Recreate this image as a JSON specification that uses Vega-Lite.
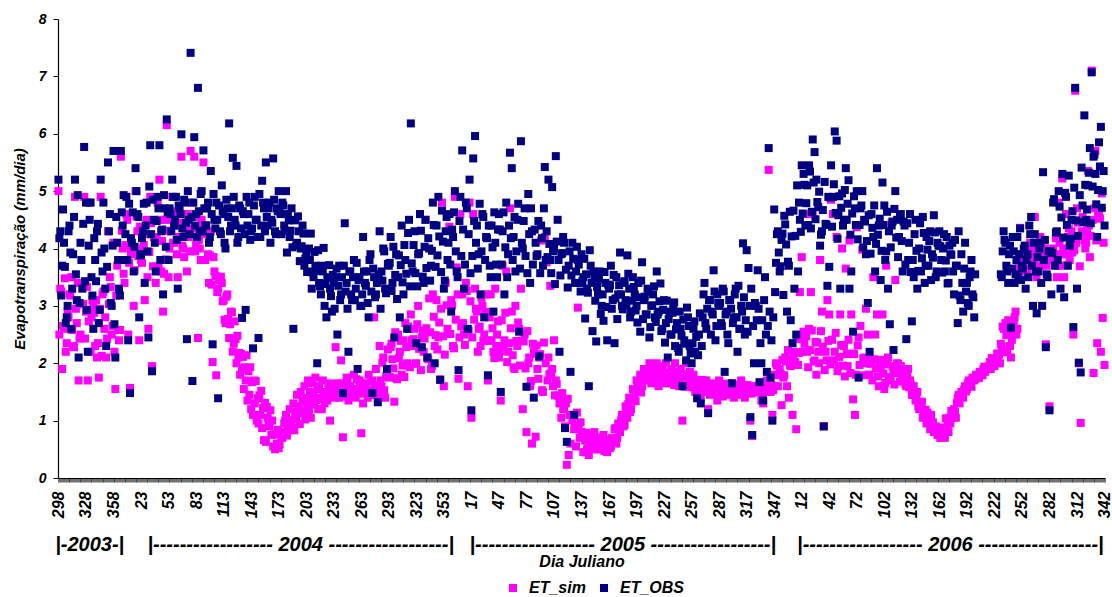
{
"$schema": "https://vega.github.io/schema/vega-lite/v6.json",
"width": 1047, "height": 459,
"autosize": {"type": "none"},
"padding": {"left": 58, "top": 19, "right": 7, "bottom": 119},
"background": "white",
"config": {"view": {"stroke": null}, "font": "Liberation Sans"},
"data": {"values": [
{"d":0,"o":5.2,"s":5.0},{"d":2,"o":4.3,"s":3.3},{"d":4,"o":3.7,"s":1.9},{"d":6,"o":4.1,"s":2.6},{"d":8,"o":2.7,"s":2.2},{"d":10,"o":3.0,"s":2.9},{"d":12,"o":4.4,"s":3.2},{"d":14,"o":2.6,"s":3.5},{"d":16,"o":3.9,"s":2.3},{"d":18,"o":5.2,"s":4.9},
{"d":20,"o":3.1,"s":2.7},{"d":22,"o":2.1,"s":1.7},{"d":24,"o":4.1,"s":2.5},{"d":26,"o":3.3,"s":3.4},{"d":28,"o":5.77,"s":4.9},{"d":30,"o":4.8,"s":2.9},{"d":32,"o":2.2,"s":1.7},{"d":34,"o":4.5,"s":4.8},{"d":36,"o":3.5,"s":2.8},{"d":38,"o":2.6,"s":3.0},
{"d":40,"o":3.8,"s":2.3},{"d":42,"o":4.3,"s":2.1},{"d":44,"o":2.7,"s":1.75},{"d":46,"o":5.2,"s":4.9},{"d":48,"o":3.6,"s":3.2},{"d":50,"o":4.0,"s":2.6},{"d":52,"o":2.3,"s":2.1},{"d":54,"o":5.5,"s":4.3},{"d":56,"o":4.6,"s":3.5},{"d":58,"o":3.0,"s":2.5},
{"d":60,"o":5.7,"s":4.1},{"d":62,"o":2.1,"s":1.55},{"d":64,"o":4.1,"s":3.7},{"d":66,"o":3.3,"s":2.4},{"d":68,"o":5.7,"s":5.6},{"d":70,"o":4.4,"s":4.0},{"d":72,"o":3.8,"s":3.4},{"d":74,"o":4.9,"s":4.6},{"d":76,"o":2.4,"s":2.5},{"d":78,"o":1.48,"s":1.57},
{"d":80,"o":4.1,"s":3.9},{"d":82,"o":3.6,"s":3.0},{"d":84,"o":5.4,"s":5.0},{"d":86,"o":4.6,"s":4.3},{"d":88,"o":2.8,"s":2.4},{"d":90,"o":3.9,"s":3.8},{"d":92,"o":4.3,"s":4.0},{"d":94,"o":3.4,"s":3.1},{"d":96,"o":4.8,"s":4.5},{"d":98,"o":2.45,"s":2.6},
{"d":100,"o":5.8,"s":4.9},{"d":102,"o":1.86,"s":1.95},{"d":104,"o":4.5,"s":4.2},{"d":106,"o":3.6,"s":3.4},{"d":108,"o":4.9,"s":4.8},{"d":110,"o":5.8,"s":5.2},{"d":112,"o":4.3,"s":3.6},{"d":114,"o":3.2,"s":2.9},{"d":116,"o":4.7,"s":4.5},{"d":118,"o":6.25,"s":6.15},
{"d":120,"o":3.8,"s":3.5},{"d":122,"o":4.6,"s":4.3},{"d":124,"o":5.2,"s":4.9},{"d":126,"o":4.4,"s":4.1},{"d":128,"o":4.9,"s":4.6},{"d":130,"o":3.3,"s":3.5},{"d":132,"o":4.7,"s":4.4},{"d":134,"o":5.99,"s":5.6},{"d":136,"o":4.2,"s":4.0},{"d":138,"o":4.8,"s":4.3},
{"d":140,"o":2.42,"s":3.6},{"d":142,"o":4.5,"s":4.2},{"d":144,"o":7.41,"s":5.7},{"d":146,"o":1.69,"s":4.8},{"d":148,"o":5.94,"s":5.6},{"d":150,"o":4.6,"s":4.06},{"d":152,"o":6.8,"s":2.44},{"d":154,"o":4.3,"s":4.0},{"d":156,"o":5.0,"s":4.5},{"d":158,"o":5.71,"s":5.5},
{"d":160,"o":4.4,"s":3.8},{"d":162,"o":4.7,"s":4.26},{"d":164,"o":4.1,"s":3.4},{"d":166,"o":5.35,"s":4.3},{"d":168,"o":2.33,"s":2.02},{"d":170,"o":4.5,"s":3.6},{"d":172,"o":4.8,"s":1.79},{"d":174,"o":1.39,"s":3.3},{"d":176,"o":4.3,"s":3.5},{"d":178,"o":5.1,"s":3.4},
{"d":180,"o":4.6,"s":3.1},{"d":182,"o":4.0,"s":2.7},{"d":184,"o":4.7,"s":3.2},{"d":186,"o":6.18,"s":2.44},{"d":188,"o":4.4,"s":2.9},{"d":190,"o":5.58,"s":2.2},{"d":192,"o":4.5,"s":2.73},{"d":194,"o":5.44,"s":2.0},{"d":196,"o":4.2,"s":2.1},{"d":198,"o":4.7,"s":1.8},
{"d":200,"o":2.79,"s":1.9},{"d":202,"o":4.6,"s":1.55},{"d":204,"o":2.93,"s":1.7},{"d":206,"o":4.4,"s":1.35},{"d":208,"o":4.8,"s":1.45},{"d":210,"o":4.3,"s":1.2},{"d":212,"o":2.26,"s":1.1},{"d":214,"o":4.9,"s":1.3},{"d":216,"o":4.5,"s":1.0},{"d":218,"o":2.44,"s":0.95},
{"d":220,"o":4.2,"s":1.1},{"d":222,"o":5.18,"s":0.87},{"d":224,"o":4.7,"s":0.66},{"d":226,"o":5.5,"s":0.63},{"d":228,"o":4.4,"s":1.05},{"d":230,"o":4.8,"s":0.9},{"d":232,"o":4.5,"s":0.75},{"d":234,"o":5.57,"s":0.55},{"d":236,"o":4.3,"s":0.5},{"d":238,"o":4.7,"s":0.6},
{"d":240,"o":5.0,"s":0.52},{"d":242,"o":4.6,"s":0.8},{"d":244,"o":4.8,"s":0.7},{"d":246,"o":4.4,"s":0.95},{"d":248,"o":5.0,"s":1.1},{"d":250,"o":4.6,"s":0.85},{"d":252,"o":4.2,"s":1.2},{"d":254,"o":4.7,"s":1.0},{"d":256,"o":2.6,"s":1.3},{"d":258,"o":4.5,"s":1.15},
{"d":260,"o":4.1,"s":1.45},{"d":262,"o":4.3,"s":1.25},{"d":264,"o":4.0,"s":1.5},{"d":266,"o":4.4,"s":1.35},{"d":268,"o":3.7,"s":1.6},{"d":270,"o":3.9,"s":1.4},{"d":272,"o":3.6,"s":1.7},{"d":274,"o":3.8,"s":1.5},{"d":276,"o":3.3,"s":1.65},{"d":278,"o":3.5,"s":1.45},
{"d":280,"o":3.7,"s":1.75},{"d":282,"o":2.0,"s":1.55},{"d":284,"o":3.4,"s":1.6},{"d":286,"o":3.2,"s":1.4},{"d":288,"o":3.6,"s":1.7},{"d":290,"o":3.0,"s":1.3},{"d":292,"o":2.8,"s":1.5},{"d":294,"o":3.5,"s":1.65},{"d":296,"o":3.3,"s":1.0},{"d":298,"o":2.9,"s":1.6},
{"d":300,"o":3.4,"s":1.45},{"d":302,"o":3.5,"s":2.28},{"d":304,"o":2.5,"s":1.6},{"d":306,"o":3.7,"s":1.4},{"d":308,"o":3.2,"s":2.05},{"d":310,"o":1.48,"s":0.71},{"d":312,"o":4.44,"s":1.5},{"d":314,"o":3.4,"s":1.75},{"d":316,"o":2.2,"s":1.35},{"d":318,"o":3.6,"s":1.6},
{"d":320,"o":3.1,"s":1.5},{"d":322,"o":3.8,"s":1.8},{"d":324,"o":3.3,"s":1.4},{"d":326,"o":1.9,"s":1.55},{"d":328,"o":3.5,"s":1.7},{"d":330,"o":3.0,"s":0.78},{"d":332,"o":4.2,"s":1.3},{"d":334,"o":3.4,"s":1.65},{"d":336,"o":3.6,"s":1.5},{"d":338,"o":2.8,"s":1.8},
{"d":340,"o":3.9,"s":1.45},{"d":342,"o":1.48,"s":1.7},{"d":344,"o":3.5,"s":2.8},{"d":346,"o":3.2,"s":1.9},{"d":348,"o":1.32,"s":1.55},{"d":350,"o":4.3,"s":2.3},{"d":352,"o":3.6,"s":1.6},{"d":354,"o":4.0,"s":2.1},{"d":356,"o":3.3,"s":1.4},{"d":358,"o":1.9,"s":1.9},
{"d":360,"o":3.7,"s":1.75},{"d":362,"o":4.2,"s":2.28},{"d":364,"o":3.4,"s":2.07},{"d":366,"o":2.45,"s":1.33},{"d":368,"o":3.9,"s":1.74},{"d":370,"o":3.5,"s":2.5},{"d":372,"o":2.8,"s":2.2},{"d":374,"o":4.4,"s":1.8},{"d":376,"o":3.2,"s":2.4},{"d":378,"o":3.8,"s":2.7},
{"d":380,"o":2.6,"s":2.0},{"d":382,"o":4.5,"s":2.6},{"d":384,"o":6.18,"s":2.85},{"d":386,"o":3.6,"s":2.3},{"d":388,"o":4.3,"s":2.6},{"d":390,"o":2.35,"s":2.0},{"d":392,"o":3.9,"s":3.0},{"d":394,"o":4.6,"s":4.6},{"d":396,"o":2.28,"s":2.45},{"d":398,"o":3.4,"s":2.2},
{"d":400,"o":4.5,"s":4.5},{"d":402,"o":2.1,"s":2.1},{"d":404,"o":4.0,"s":3.13},{"d":406,"o":3.7,"s":1.9},{"d":408,"o":4.8,"s":3.2},{"d":410,"o":2.0,"s":2.3},{"d":412,"o":4.4,"s":3.1},{"d":414,"o":4.9,"s":2.45},{"d":416,"o":1.71,"s":1.72},{"d":418,"o":4.66,"s":4.8},
{"d":420,"o":3.3,"s":1.6},{"d":422,"o":4.3,"s":3.4},{"d":424,"o":3.8,"s":2.6},{"d":426,"o":4.6,"s":4.38},{"d":428,"o":2.9,"s":3.1},{"d":430,"o":4.2,"s":2.3},{"d":432,"o":5.0,"s":4.9},{"d":434,"o":3.6,"s":3.67},{"d":436,"o":1.88,"s":1.73},{"d":438,"o":4.9,"s":4.6},
{"d":440,"o":5.71,"s":3.2},{"d":442,"o":3.3,"s":2.5},{"d":444,"o":4.8,"s":3.4},{"d":446,"o":2.6,"s":1.6},{"d":448,"o":5.2,"s":4.8},{"d":450,"o":1.18,"s":1.05},{"d":452,"o":5.57,"s":4.6},{"d":454,"o":5.96,"s":3.3},{"d":456,"o":4.4,"s":2.9},{"d":458,"o":3.9,"s":2.6},
{"d":460,"o":3.2,"s":2.3},{"d":462,"o":4.6,"s":3.0},{"d":464,"o":2.8,"s":2.5},{"d":466,"o":4.2,"s":3.2},{"d":468,"o":1.79,"s":1.7},{"d":470,"o":3.7,"s":2.8},{"d":472,"o":4.4,"s":2.4},{"d":474,"o":2.9,"s":2.2},{"d":476,"o":4.1,"s":3.3},{"d":478,"o":3.5,"s":2.5},
{"d":480,"o":4.6,"s":2.1},{"d":482,"o":1.5,"s":1.35},{"d":484,"o":4.3,"s":3.7},{"d":486,"o":3.2,"s":2.4},{"d":488,"o":4.8,"s":3.6},{"d":490,"o":3.9,"s":2.2},{"d":492,"o":5.67,"s":4.7},{"d":494,"o":5.4,"s":2.9},{"d":496,"o":4.2,"s":1.93},{"d":498,"o":3.6,"s":3.0},
{"d":500,"o":4.5,"s":2.3},{"d":502,"o":2.55,"s":2.6},{"d":504,"o":5.87,"s":3.3},{"d":506,"o":4.0,"s":1.2},{"d":508,"o":4.7,"s":2.5},{"d":510,"o":1.59,"s":0.8},{"d":512,"o":4.95,"s":2.0},{"d":514,"o":3.4,"s":1.6},{"d":516,"o":4.3,"s":0.6},{"d":518,"o":1.4,"s":2.2},
{"d":520,"o":4.1,"s":0.72},{"d":522,"o":3.9,"s":1.9},{"d":524,"o":2.12,"s":2.1},{"d":526,"o":4.4,"s":4.14},{"d":528,"o":3.7,"s":1.5},{"d":530,"o":5.42,"s":4.2},{"d":532,"o":4.3,"s":3.76},{"d":534,"o":5.2,"s":2.1},{"d":536,"o":3.8,"s":3.35},{"d":538,"o":5.07,"s":1.9},
{"d":540,"o":4.0,"s":2.4},{"d":542,"o":5.61,"s":1.7},{"d":544,"o":4.5,"s":1.44},{"d":546,"o":2.2,"s":1.3},{"d":548,"o":3.9,"s":1.05},{"d":550,"o":4.2,"s":1.2},{"d":552,"o":0.87,"s":0.9},{"d":554,"o":0.63,"s":0.23},{"d":556,"o":3.7,"s":0.4},{"d":558,"o":1.85,"s":0.6},
{"d":560,"o":4.1,"s":1.0},{"d":562,"o":1.1,"s":0.85},{"d":564,"o":3.6,"s":0.55},{"d":566,"o":3.8,"s":2.97},{"d":568,"o":3.4,"s":0.7},{"d":570,"o":3.9,"s":0.8},{"d":572,"o":3.5,"s":0.45},{"d":574,"o":2.78,"s":0.65},{"d":576,"o":3.3,"s":0.5},{"d":578,"o":1.6,"s":0.4},
{"d":580,"o":3.7,"s":0.75},{"d":582,"o":2.56,"s":0.6},{"d":584,"o":3.5,"s":0.8},{"d":586,"o":2.38,"s":0.55},{"d":588,"o":3.2,"s":0.7},{"d":590,"o":3.6,"s":0.5},{"d":592,"o":3.0,"s":0.65},{"d":594,"o":2.74,"s":0.75},{"d":596,"o":3.4,"s":0.5},{"d":598,"o":2.4,"s":0.45},
{"d":600,"o":3.3,"s":0.6},{"d":602,"o":3.7,"s":0.55},{"d":604,"o":3.1,"s":0.7},{"d":606,"o":2.35,"s":0.85},{"d":608,"o":3.5,"s":0.6},{"d":610,"o":3.2,"s":0.95},{"d":612,"o":3.93,"s":0.8},{"d":614,"o":3.0,"s":1.1},{"d":616,"o":3.4,"s":0.9},{"d":618,"o":3.1,"s":1.25},
{"d":620,"o":3.88,"s":1.05},{"d":622,"o":3.3,"s":1.4},{"d":624,"o":2.9,"s":1.2},{"d":626,"o":3.5,"s":1.55},{"d":628,"o":3.2,"s":1.35},{"d":630,"o":3.0,"s":1.7},{"d":632,"o":3.4,"s":1.5},{"d":634,"o":2.55,"s":1.8},{"d":636,"o":3.76,"s":1.6},{"d":638,"o":3.1,"s":1.9},
{"d":640,"o":2.85,"s":1.7},{"d":642,"o":3.3,"s":1.8},{"d":644,"o":2.45,"s":2.0},{"d":646,"o":3.0,"s":1.65},{"d":648,"o":3.2,"s":1.9},{"d":650,"o":2.8,"s":1.75},{"d":652,"o":3.6,"s":2.0},{"d":654,"o":2.9,"s":1.6},{"d":656,"o":3.39,"s":1.85},{"d":658,"o":2.6,"s":1.95},
{"d":660,"o":3.1,"s":1.7},{"d":662,"o":2.7,"s":2.0},{"d":664,"o":2.1,"s":1.8},{"d":666,"o":2.9,"s":1.65},{"d":668,"o":2.5,"s":1.9},{"d":670,"o":3.0,"s":1.75},{"d":672,"o":2.3,"s":2.0},{"d":674,"o":2.7,"s":1.85},{"d":676,"o":2.2,"s":1.6},{"d":678,"o":2.6,"s":1.9},
{"d":680,"o":1.6,"s":1.0},{"d":682,"o":2.4,"s":1.75},{"d":684,"o":2.05,"s":2.0},{"d":686,"o":2.8,"s":1.7},{"d":688,"o":2.3,"s":1.85},{"d":690,"o":2.0,"s":1.6},{"d":692,"o":2.6,"s":1.8},{"d":694,"o":2.2,"s":1.5},{"d":696,"o":1.39,"s":1.7},{"d":698,"o":2.5,"s":1.55},
{"d":700,"o":1.3,"s":1.4},{"d":702,"o":2.8,"s":1.5},{"d":704,"o":3.4,"s":1.6},{"d":706,"o":2.6,"s":1.7},{"d":708,"o":1.13,"s":1.2},{"d":710,"o":3.1,"s":1.45},{"d":712,"o":2.9,"s":1.65},{"d":714,"o":3.62,"s":1.5},{"d":716,"o":2.4,"s":1.6},{"d":718,"o":3.2,"s":1.35},
{"d":720,"o":3.0,"s":1.7},{"d":722,"o":2.7,"s":1.5},{"d":724,"o":3.3,"s":1.42},{"d":726,"o":1.85,"s":1.6},{"d":728,"o":2.9,"s":1.5},{"d":730,"o":2.35,"s":1.45},{"d":732,"o":3.1,"s":1.65},{"d":734,"o":1.65,"s":1.55},{"d":736,"o":2.8,"s":1.4},{"d":738,"o":3.3,"s":1.6},
{"d":740,"o":2.2,"s":1.5},{"d":742,"o":2.6,"s":1.45},{"d":744,"o":3.0,"s":1.7},{"d":746,"o":4.09,"s":1.55},{"d":748,"o":2.5,"s":1.4},{"d":750,"o":3.97,"s":1.6},{"d":752,"o":3.66,"s":1.5},{"d":754,"o":1.06,"s":1.0},{"d":756,"o":0.75,"s":0.73},{"d":758,"o":2.0,"s":1.5},
{"d":760,"o":3.0,"s":1.6},{"d":762,"o":3.62,"s":1.6},{"d":764,"o":1.67,"s":1.5},{"d":766,"o":2.0,"s":1.35},{"d":768,"o":1.35,"s":1.3},{"d":770,"o":3.5,"s":1.6},{"d":772,"o":1.85,"s":1.7},{"d":774,"o":5.75,"s":5.37},{"d":776,"o":1.75,"s":1.5},{"d":778,"o":1.0,"s":1.1},
{"d":780,"o":4.68,"s":1.8},{"d":782,"o":3.75,"s":2.0},{"d":784,"o":4.3,"s":1.6},{"d":786,"o":3.6,"s":1.9},{"d":788,"o":4.15,"s":1.27},{"d":790,"o":3.19,"s":1.75},{"d":792,"o":4.42,"s":2.1},{"d":794,"o":2.9,"s":1.6},{"d":796,"o":3.7,"s":1.4},{"d":798,"o":2.75,"s":1.95},
{"d":800,"o":2.35,"s":1.1},{"d":802,"o":3.3,"s":2.2},{"d":804,"o":2.5,"s":0.85},{"d":806,"o":3.6,"s":1.97},{"d":808,"o":4.5,"s":3.24},{"d":810,"o":5.45,"s":3.85},{"d":812,"o":5.3,"s":2.55},{"d":814,"o":4.4,"s":4.6},{"d":816,"o":5.1,"s":2.2},{"d":818,"o":5.45,"s":2.6},
{"d":820,"o":4.35,"s":3.24},{"d":822,"o":5.9,"s":4.6},{"d":824,"o":5.68,"s":2.05},{"d":826,"o":5.2,"s":1.8},{"d":828,"o":4.72,"s":2.2},{"d":830,"o":4.05,"s":3.8},{"d":832,"o":4.3,"s":2.9},{"d":834,"o":0.9,"s":0.9},{"d":836,"o":4.43,"s":2.2},{"d":838,"o":3.35,"s":3.1},
{"d":840,"o":3.68,"s":2.85},{"d":842,"o":5.45,"s":4.85},{"d":844,"o":4.9,"s":4.6},{"d":846,"o":6.04,"s":2.2},{"d":848,"o":5.88,"s":4.2},{"d":850,"o":4.58,"s":1.95},{"d":852,"o":3.3,"s":2.85},{"d":854,"o":4.96,"s":4.0},{"d":856,"o":4.5,"s":2.3},{"d":858,"o":5.4,"s":3.65},
{"d":860,"o":4.78,"s":1.95},{"d":862,"o":3.3,"s":4.14},{"d":864,"o":3.6,"s":2.85},{"d":866,"o":2.55,"s":1.37},{"d":868,"o":4.7,"s":1.1},{"d":870,"o":5.0,"s":4.37},{"d":872,"o":1.75,"s":2.45},{"d":874,"o":4.7,"s":2.65},{"d":876,"o":5.0,"s":3.98},{"d":878,"o":4.5,"s":2.1},
{"d":880,"o":3.9,"s":2.95},{"d":882,"o":3.05,"s":2.5},{"d":884,"o":2.2,"s":1.8},{"d":886,"o":4.6,"s":2.0},{"d":888,"o":4.2,"s":3.5},{"d":890,"o":3.6,"s":2.5},{"d":892,"o":5.4,"s":2.85},{"d":894,"o":4.4,"s":1.6},{"d":896,"o":3.45,"s":1.95},{"d":898,"o":5.15,"s":2.85},
{"d":900,"o":4.75,"s":1.55},{"d":902,"o":3.95,"s":3.7},{"d":904,"o":3.3,"s":2.1},{"d":906,"o":2.68,"s":1.7},{"d":908,"o":4.4,"s":4.45},{"d":910,"o":2.23,"s":1.9},{"d":912,"o":5.0,"s":3.45},{"d":914,"o":4.5,"s":2.0},{"d":916,"o":4.2,"s":1.85},{"d":918,"o":4.6,"s":1.95},
{"d":920,"o":3.6,"s":1.8},{"d":922,"o":4.4,"s":1.85},{"d":924,"o":2.42,"s":1.6},{"d":926,"o":3.8,"s":1.9},{"d":928,"o":4.6,"s":1.7},{"d":930,"o":2.73,"s":1.45},{"d":932,"o":3.5,"s":1.6},{"d":934,"o":4.5,"s":1.35},{"d":936,"o":3.3,"s":1.5},{"d":938,"o":4.0,"s":1.2},
{"d":940,"o":3.6,"s":1.3},{"d":942,"o":4.55,"s":1.05},{"d":944,"o":3.4,"s":1.15},{"d":946,"o":4.2,"s":0.95},{"d":948,"o":3.7,"s":1.05},{"d":950,"o":4.3,"s":0.85},{"d":952,"o":3.9,"s":0.95},{"d":954,"o":4.58,"s":0.8},{"d":956,"o":3.5,"s":0.9},{"d":958,"o":4.1,"s":0.75},
{"d":960,"o":4.3,"s":0.85},{"d":962,"o":3.8,"s":0.7},{"d":964,"o":4.0,"s":0.8},{"d":966,"o":3.6,"s":0.7},{"d":968,"o":4.2,"s":0.85},{"d":970,"o":3.4,"s":0.8},{"d":972,"o":3.9,"s":0.95},{"d":974,"o":4.1,"s":1.05},{"d":976,"o":3.2,"s":1.2},{"d":978,"o":3.7,"s":1.05},
{"d":980,"o":2.7,"s":1.4},{"d":982,"o":3.18,"s":1.3},{"d":984,"o":3.9,"s":1.5},{"d":986,"o":2.9,"s":1.4},{"d":988,"o":4.1,"s":1.6},{"d":990,"o":3.4,"s":1.55},{"d":992,"o":3.0,"s":1.7},{"d":994,"o":3.6,"s":1.65},{"d":996,"o":3.2,"s":1.75},{"d":998,"o":2.8,"s":1.7},
{"d":1000,"o":null,"s":1.8},{"d":1002,"o":null,"s":1.75},{"d":1004,"o":null,"s":1.85},{"d":1006,"o":null,"s":1.8},{"d":1008,"o":null,"s":1.9},{"d":1010,"o":null,"s":1.85},{"d":1012,"o":null,"s":1.9},{"d":1014,"o":null,"s":1.95},{"d":1016,"o":null,"s":1.9},{"d":1018,"o":null,"s":1.99},
{"d":1020,"o":null,"s":1.95},{"d":1022,"o":null,"s":2.0},{"d":1024,"o":null,"s":2.1},{"d":1026,"o":null,"s":2.0},{"d":1028,"o":3.5,"s":2.3},{"d":1030,"o":4.3,"s":2.6},{"d":1032,"o":4.1,"s":2.7},{"d":1034,"o":3.6,"s":2.2},{"d":1036,"o":3.9,"s":2.5},{"d":1038,"o":2.62,"s":2.1},
{"d":1040,"o":4.2,"s":2.6},{"d":1042,"o":3.4,"s":2.8},{"d":1044,"o":3.8,"s":2.5},{"d":1046,"o":3.5,"s":3.6},{"d":1048,"o":4.35,"s":4.36},{"d":1050,"o":3.7,"s":3.8},{"d":1052,"o":4.0,"s":3.7},{"d":1054,"o":3.3,"s":3.9},{"d":1056,"o":3.9,"s":3.6},{"d":1058,"o":4.4,"s":4.0},
{"d":1060,"o":4.55,"s":3.8},{"d":1062,"o":3.0,"s":3.7},{"d":1064,"o":4.25,"s":4.55},{"d":1066,"o":2.87,"s":3.5},{"d":1068,"o":3.6,"s":3.9},{"d":1070,"o":4.1,"s":4.2},{"d":1072,"o":3.0,"s":3.7},{"d":1074,"o":3.8,"s":4.0},{"d":1076,"o":2.28,"s":2.33},{"d":1078,"o":3.5,"s":3.8},
{"d":1080,"o":1.18,"s":1.25},{"d":1082,"o":3.2,"s":3.9},{"d":1084,"o":4.8,"s":4.0},{"d":1086,"o":3.7,"s":3.8},{"d":1088,"o":4.3,"s":3.5},{"d":1090,"o":5.0,"s":4.8},{"d":1092,"o":3.3,"s":3.7},{"d":1094,"o":5.3,"s":5.22},{"d":1096,"o":3.15,"s":3.5},{"d":1098,"o":4.9,"s":4.6},
{"d":1100,"o":3.7,"s":4.2},{"d":1102,"o":4.05,"s":3.8},{"d":1104,"o":4.5,"s":4.3},{"d":1106,"o":2.63,"s":2.5},{"d":1108,"o":6.8,"s":6.75},{"d":1110,"o":3.3,"s":4.7},{"d":1112,"o":2.01,"s":2.0},{"d":1114,"o":1.84,"s":0.96},{"d":1116,"o":4.75,"s":4.55},{"d":1118,"o":6.32,"s":4.14},
{"d":1120,"o":4.5,"s":4.1},{"d":1122,"o":5.1,"s":5.35},{"d":1124,"o":5.75,"s":3.85},{"d":1126,"o":7.07,"s":7.1},{"d":1128,"o":5.6,"s":1.83},{"d":1130,"o":5.3,"s":5.7},{"d":1132,"o":4.2,"s":2.35},{"d":1134,"o":5.85,"s":4.6},{"d":1136,"o":6.12,"s":2.2},{"d":1138,"o":5.0,"s":2.79},
{"d":1140,"o":4.4,"s":1.97},
{"d":1,"o":4.18,"s":2.5},{"d":3,"o":3.18,"s":3.25},{"d":5,"o":4.68,"s":2.65},{"d":7,"o":3.68,"s":3.48},{"d":9,"o":2.8,"s":2.35},{"d":11,"o":4.3,"s":2.8},{"d":13,"o":3.93,"s":3.18},{"d":15,"o":3.3,"s":2.58},{"d":17,"o":4.55,"s":2.28},{"d":19,"o":3.55,"s":2.95},
{"d":21,"o":4.93,"s":3.4},{"d":23,"o":3.05,"s":2.43},{"d":25,"o":3.8,"s":3.03},{"d":27,"o":4.43,"s":3.03},{"d":29,"o":3.43,"s":2.43},{"d":31,"o":2.93,"s":3.33},{"d":33,"o":4.05,"s":2.73},{"d":35,"o":4.8,"s":2.2},{"d":37,"o":3.18,"s":3.1},{"d":39,"o":4.18,"s":2.88},
{"d":41,"o":3.43,"s":3.1},{"d":43,"o":4.43,"s":2.35},{"d":45,"o":2.93,"s":2.95},{"d":47,"o":3.93,"s":2.13},{"d":49,"o":4.8,"s":3.25},{"d":51,"o":3.3,"s":2.8},{"d":53,"o":3.68,"s":2.43},{"d":55,"o":4.3,"s":3.03},{"d":57,"o":3.05,"s":3.33},{"d":59,"o":4.05,"s":2.65},
{"d":61,"o":2.68,"s":2.2},{"d":63,"o":4.55,"s":3.18},{"d":65,"o":3.8,"s":2.58},{"d":67,"o":3.18,"s":2.58},{"d":69,"o":4.63,"s":4.31},{"d":71,"o":4.93,"s":3.56},{"d":73,"o":4.25,"s":4.06},{"d":75,"o":3.8,"s":4.5},{"d":77,"o":4.78,"s":3.75},{"d":79,"o":4.18,"s":3.94},
{"d":81,"o":4.63,"s":4.0},{"d":83,"o":4.03,"s":3.62},{"d":85,"o":5.0,"s":4.56},{"d":87,"o":4.55,"s":3.87},{"d":89,"o":3.88,"s":4.38},{"d":91,"o":4.18,"s":3.75},{"d":93,"o":4.78,"s":4.06},{"d":95,"o":4.4,"s":4.25},{"d":97,"o":3.95,"s":3.5},{"d":99,"o":5.08,"s":3.94},
{"d":101,"o":4.25,"s":4.44},{"d":103,"o":4.85,"s":3.69},{"d":105,"o":4.1,"s":4.19},{"d":107,"o":4.48,"s":4.19},{"d":109,"o":4.7,"s":3.69},{"d":111,"o":3.8,"s":4.5},{"d":113,"o":4.33,"s":4.13},{"d":115,"o":4.93,"s":3.56},{"d":117,"o":4.03,"s":3.81},{"d":119,"o":4.63,"s":4.31},
{"d":121,"o":4.7,"s":4.0},{"d":123,"o":4.3,"s":4.5},{"d":125,"o":4.9,"s":4.1},{"d":127,"o":4.5,"s":4.65},{"d":129,"o":4.15,"s":3.9},{"d":131,"o":4.75,"s":4.2},{"d":133,"o":4.6,"s":4.45},{"d":135,"o":4.35,"s":4.05},{"d":137,"o":4.85,"s":3.85},{"d":139,"o":4.45,"s":4.3},
{"d":141,"o":5.0,"s":4.6},{"d":143,"o":4.25,"s":3.95},{"d":145,"o":4.55,"s":4.35},{"d":147,"o":4.8,"s":4.35},{"d":149,"o":4.4,"s":3.95},{"d":151,"o":4.2,"s":4.55},{"d":153,"o":4.65,"s":4.15},{"d":155,"o":4.95,"s":3.8},{"d":157,"o":4.3,"s":4.4},{"d":159,"o":4.7,"s":4.25},
{"d":161,"o":4.4,"s":4.4},{"d":163,"o":4.8,"s":3.9},{"d":165,"o":4.2,"s":3.88},{"d":167,"o":4.6,"s":3.37},{"d":169,"o":4.95,"s":3.85},{"d":171,"o":4.35,"s":3.52},{"d":173,"o":4.5,"s":3.24},{"d":175,"o":4.75,"s":3.45},{"d":177,"o":4.25,"s":3.51},{"d":179,"o":4.65,"s":3.08},
{"d":181,"o":4.1,"s":2.76},{"d":183,"o":4.85,"s":3.16},{"d":185,"o":4.55,"s":2.77},{"d":187,"o":4.3,"s":2.68},{"d":189,"o":4.7,"s":2.89},{"d":191,"o":4.9,"s":2.34},{"d":193,"o":4.4,"s":2.42},{"d":195,"o":4.1,"s":2.48},{"d":197,"o":4.75,"s":2.18},{"d":199,"o":4.35,"s":2.16},
{"d":201,"o":4.65,"s":2.11},{"d":203,"o":4.25,"s":1.93},{"d":205,"o":4.9,"s":2.14},{"d":207,"o":4.6,"s":1.86},{"d":209,"o":4.15,"s":1.93},{"d":211,"o":4.35,"s":1.67},{"d":213,"o":4.75,"s":1.7},{"d":215,"o":4.5,"s":1.69},{"d":217,"o":4.2,"s":1.39},{"d":219,"o":4.95,"s":1.44},
{"d":221,"o":4.4,"s":1.52},{"d":223,"o":4.8,"s":1.22},{"d":225,"o":4.3,"s":1.31},{"d":227,"o":4.55,"s":1.24},{"d":229,"o":4.7,"s":1.0},{"d":231,"o":4.1,"s":1.18},{"d":233,"o":4.45,"s":1.0},{"d":235,"o":4.85,"s":0.76},{"d":237,"o":4.25,"s":0.76},{"d":239,"o":4.65,"s":0.84},
{"d":241,"o":4.65,"s":0.59},{"d":243,"o":4.25,"s":0.71},{"d":245,"o":4.75,"s":0.76},{"d":247,"o":4.31,"s":1.0},{"d":249,"o":3.93,"s":0.74},{"d":251,"o":4.49,"s":0.88},{"d":253,"o":4.31,"s":1.01},{"d":255,"o":4.02,"s":0.87},{"d":257,"o":4.49,"s":0.83},{"d":259,"o":4.05,"s":1.03},
{"d":261,"o":4.56,"s":1.16},{"d":263,"o":3.78,"s":0.94},{"d":265,"o":4.04,"s":1.13},{"d":267,"o":4.26,"s":1.16},{"d":269,"o":3.82,"s":1.02},{"d":271,"o":3.59,"s":1.28},{"d":273,"o":4.0,"s":1.16},{"d":275,"o":4.26,"s":1.05},{"d":277,"o":3.58,"s":1.31},{"d":279,"o":3.94,"s":1.28},
{"d":281,"o":3.61,"s":1.36},{"d":283,"o":3.97,"s":1.2},{"d":285,"o":3.34,"s":1.38},{"d":287,"o":3.7,"s":1.2},{"d":289,"o":4.01,"s":1.5},{"d":291,"o":3.38,"s":1.42},{"d":293,"o":3.49,"s":1.35},{"d":295,"o":3.71,"s":1.53},{"d":297,"o":3.17,"s":1.63},{"d":299,"o":3.54,"s":1.49},
{"d":301,"o":2.95,"s":1.4},{"d":303,"o":3.65,"s":1.65},{"d":305,"o":3.35,"s":1.49},{"d":307,"o":3.1,"s":1.49},{"d":309,"o":3.5,"s":1.65},{"d":311,"o":3.7,"s":1.42},{"d":313,"o":3.25,"s":1.57},{"d":315,"o":2.95,"s":1.7},{"d":317,"o":3.6,"s":1.47},{"d":319,"o":3.2,"s":1.53},
{"d":321,"o":3.5,"s":1.55},{"d":323,"o":3.1,"s":1.44},{"d":325,"o":3.75,"s":1.72},{"d":327,"o":3.45,"s":1.51},{"d":329,"o":3.0,"s":1.66},{"d":331,"o":3.2,"s":1.47},{"d":333,"o":3.6,"s":1.57},{"d":335,"o":3.35,"s":1.63},{"d":337,"o":3.05,"s":1.4},{"d":339,"o":3.8,"s":1.53},
{"d":341,"o":3.25,"s":1.68},{"d":343,"o":3.65,"s":1.45},{"d":345,"o":3.15,"s":1.61},{"d":347,"o":3.4,"s":1.61},{"d":349,"o":3.55,"s":1.45},{"d":351,"o":2.95,"s":1.7},{"d":353,"o":3.44,"s":2.01},{"d":355,"o":3.95,"s":1.53},{"d":357,"o":3.22,"s":1.77},{"d":359,"o":3.73,"s":2.24},
{"d":361,"o":3.75,"s":1.76},{"d":363,"o":3.26,"s":2.34},{"d":365,"o":4.03,"s":1.91},{"d":367,"o":3.54,"s":2.54},{"d":369,"o":3.12,"s":1.72},{"d":371,"o":3.88,"s":2.09},{"d":373,"o":3.71,"s":2.39},{"d":375,"o":3.41,"s":1.96},{"d":377,"o":4.06,"s":1.76},{"d":379,"o":3.56,"s":2.28},
{"d":381,"o":4.27,"s":2.64},{"d":383,"o":3.34,"s":1.93},{"d":385,"o":3.74,"s":2.4},{"d":387,"o":4.06,"s":2.42},{"d":389,"o":3.57,"s":1.99},{"d":391,"o":3.34,"s":2.68},{"d":393,"o":3.92,"s":2.25},{"d":395,"o":4.31,"s":1.88},{"d":397,"o":3.51,"s":2.57},{"d":399,"o":4.03,"s":2.43},
{"d":401,"o":3.66,"s":2.61},{"d":403,"o":4.18,"s":2.07},{"d":405,"o":3.44,"s":2.54},{"d":407,"o":3.96,"s":1.95},{"d":409,"o":4.41,"s":2.81},{"d":411,"o":3.68,"s":2.49},{"d":413,"o":3.88,"s":2.24},{"d":415,"o":4.21,"s":2.71},{"d":417,"o":3.59,"s":2.95},{"d":419,"o":4.12,"s":2.47},
{"d":421,"o":3.44,"s":2.15},{"d":423,"o":4.55,"s":3.01},{"d":425,"o":4.1,"s":2.51},{"d":427,"o":3.72,"s":2.51},{"d":429,"o":4.33,"s":3.01},{"d":431,"o":4.63,"s":2.26},{"d":433,"o":3.95,"s":2.76},{"d":435,"o":3.5,"s":3.2},{"d":437,"o":4.48,"s":2.45},{"d":439,"o":3.87,"s":2.64},
{"d":441,"o":4.33,"s":2.7},{"d":443,"o":3.72,"s":2.32},{"d":445,"o":4.7,"s":3.26},{"d":447,"o":4.25,"s":2.57},{"d":449,"o":3.57,"s":3.08},{"d":451,"o":3.87,"s":2.45},{"d":453,"o":4.48,"s":2.76},{"d":455,"o":4.1,"s":2.95},{"d":457,"o":3.65,"s":2.2},{"d":459,"o":4.78,"s":2.64},
{"d":461,"o":3.95,"s":3.14},{"d":463,"o":4.55,"s":2.39},{"d":465,"o":3.8,"s":2.89},{"d":467,"o":4.18,"s":2.89},{"d":469,"o":4.4,"s":2.39},{"d":471,"o":3.5,"s":3.2},{"d":473,"o":4.02,"s":2.61},{"d":475,"o":4.63,"s":2.09},{"d":477,"o":3.72,"s":2.3},{"d":479,"o":4.33,"s":2.73},
{"d":481,"o":4.33,"s":2.21},{"d":483,"o":3.72,"s":2.75},{"d":485,"o":4.63,"s":2.29},{"d":487,"o":4.02,"s":2.88},{"d":489,"o":3.5,"s":2.02},{"d":491,"o":4.4,"s":2.35},{"d":493,"o":4.18,"s":2.61},{"d":495,"o":3.8,"s":2.14},{"d":497,"o":4.55,"s":1.9},{"d":499,"o":3.95,"s":2.39},
{"d":501,"o":4.78,"s":2.71},{"d":503,"o":3.65,"s":1.96},{"d":505,"o":4.1,"s":2.39},{"d":507,"o":4.48,"s":2.38},{"d":509,"o":3.87,"s":1.91},{"d":511,"o":3.57,"s":2.56},{"d":513,"o":4.25,"s":2.1},{"d":515,"o":4.7,"s":1.69},{"d":517,"o":3.72,"s":2.34},{"d":519,"o":4.33,"s":2.16},
{"d":521,"o":3.87,"s":2.31},{"d":523,"o":4.48,"s":1.73},{"d":525,"o":3.57,"s":2.16},{"d":527,"o":4.18,"s":1.53},{"d":529,"o":4.7,"s":2.36},{"d":531,"o":3.8,"s":2.0},{"d":533,"o":3.85,"s":1.7},{"d":535,"o":4.08,"s":1.81},{"d":537,"o":3.57,"s":1.83},{"d":539,"o":3.95,"s":1.6},
{"d":541,"o":3.38,"s":1.44},{"d":543,"o":4.12,"s":1.64},{"d":545,"o":3.8,"s":1.43},{"d":547,"o":3.53,"s":1.38},{"d":549,"o":3.92,"s":1.48},{"d":551,"o":4.1,"s":1.2},{"d":553,"o":3.63,"s":1.3},{"d":555,"o":3.32,"s":1.38},{"d":557,"o":3.95,"s":1.1},{"d":559,"o":3.53,"s":1.1},
{"d":561,"o":3.82,"s":1.07},{"d":563,"o":3.4,"s":0.91},{"d":565,"o":4.03,"s":1.14},{"d":567,"o":3.72,"s":0.88},{"d":569,"o":3.25,"s":0.97},{"d":571,"o":3.43,"s":0.73},{"d":573,"o":3.82,"s":0.78},{"d":575,"o":3.55,"s":0.79},{"d":577,"o":3.23,"s":0.51},{"d":579,"o":3.97,"s":0.58},
{"d":581,"o":3.4,"s":0.68},{"d":583,"o":3.6,"s":0.5},{"d":585,"o":3.09,"s":0.63},{"d":587,"o":3.33,"s":0.63},{"d":589,"o":3.47,"s":0.5},{"d":591,"o":2.86,"s":0.7},{"d":593,"o":3.2,"s":0.61},{"d":595,"o":3.59,"s":0.47},{"d":597,"o":2.98,"s":0.53},{"d":599,"o":3.37,"s":0.66},
{"d":601,"o":3.36,"s":0.52},{"d":603,"o":2.95,"s":0.69},{"d":605,"o":3.54,"s":0.63},{"d":607,"o":3.13,"s":0.87},{"d":609,"o":2.77,"s":0.7},{"d":611,"o":3.36,"s":0.85},{"d":613,"o":3.2,"s":1.0},{"d":615,"o":2.94,"s":0.93},{"d":617,"o":3.43,"s":0.93},{"d":619,"o":3.02,"s":1.13},
{"d":621,"o":3.56,"s":1.29},{"d":623,"o":2.8,"s":1.15},{"d":625,"o":3.09,"s":1.34},{"d":627,"o":3.33,"s":1.41},{"d":629,"o":2.92,"s":1.34},{"d":631,"o":2.71,"s":1.59},{"d":633,"o":3.15,"s":1.53},{"d":635,"o":3.44,"s":1.49},{"d":637,"o":2.77,"s":1.73},{"d":639,"o":3.16,"s":1.76},
{"d":641,"o":2.85,"s":1.86},{"d":643,"o":3.25,"s":1.76},{"d":645,"o":2.63,"s":1.87},{"d":647,"o":3.01,"s":1.69},{"d":649,"o":3.34,"s":1.91},{"d":651,"o":2.72,"s":1.82},{"d":653,"o":2.85,"s":1.73},{"d":655,"o":3.08,"s":1.85},{"d":657,"o":2.56,"s":1.9},{"d":659,"o":2.93,"s":1.75},
{"d":661,"o":2.36,"s":1.65},{"d":663,"o":3.09,"s":1.84},{"d":665,"o":2.77,"s":1.71},{"d":667,"o":2.5,"s":1.7},{"d":669,"o":2.88,"s":1.82},{"d":671,"o":3.06,"s":1.62},{"d":673,"o":2.59,"s":1.74},{"d":675,"o":2.27,"s":1.83},{"d":677,"o":2.9,"s":1.64},{"d":679,"o":2.48,"s":1.68},
{"d":681,"o":2.76,"s":1.69},{"d":683,"o":2.34,"s":1.59},{"d":685,"o":2.97,"s":1.81},{"d":687,"o":2.65,"s":1.63},{"d":689,"o":2.17,"s":1.74},{"d":691,"o":2.35,"s":1.58},{"d":693,"o":2.73,"s":1.66},{"d":695,"o":2.46,"s":1.69},{"d":697,"o":2.14,"s":1.5},{"d":699,"o":2.87,"s":1.59},
{"d":701,"o":2.3,"s":1.71},{"d":703,"o":3.2,"s":1.5},{"d":705,"o":2.7,"s":1.58},{"d":707,"o":2.95,"s":1.58},{"d":709,"o":3.1,"s":1.5},{"d":711,"o":2.5,"s":1.63},{"d":713,"o":2.85,"s":1.57},{"d":715,"o":3.25,"s":1.48},{"d":717,"o":2.65,"s":1.52},{"d":719,"o":3.05,"s":1.6},
{"d":721,"o":3.05,"s":1.51},{"d":723,"o":2.65,"s":1.61},{"d":725,"o":3.25,"s":1.53},{"d":727,"o":2.85,"s":1.64},{"d":729,"o":2.5,"s":1.49},{"d":731,"o":3.1,"s":1.55},{"d":733,"o":2.95,"s":1.6},{"d":735,"o":2.7,"s":1.52},{"d":737,"o":3.2,"s":1.48},{"d":739,"o":2.8,"s":1.57},
{"d":741,"o":3.35,"s":1.63},{"d":743,"o":2.6,"s":1.5},{"d":745,"o":2.9,"s":1.58},{"d":747,"o":3.15,"s":1.58},{"d":749,"o":2.75,"s":1.5},{"d":751,"o":2.55,"s":1.62},{"d":753,"o":3.0,"s":1.54},{"d":755,"o":3.3,"s":1.47},{"d":757,"o":2.65,"s":1.59},{"d":759,"o":3.05,"s":1.56},
{"d":761,"o":2.75,"s":1.59},{"d":763,"o":2.95,"s":1.49},{"d":765,"o":2.35,"s":1.57},{"d":767,"o":2.75,"s":1.46},{"d":769,"o":3.1,"s":1.61},{"d":771,"o":2.5,"s":1.55},{"d":773,"o":2.65,"s":1.5},{"d":775,"o":2.9,"s":1.58},{"d":777,"o":2.4,"s":1.62},{"d":779,"o":2.8,"s":1.53},
{"d":781,"o":3.24,"s":1.6},{"d":783,"o":4.25,"s":1.96},{"d":785,"o":3.93,"s":1.79},{"d":787,"o":3.69,"s":1.82},{"d":789,"o":4.26,"s":2.06},{"d":791,"o":4.57,"s":1.79},{"d":793,"o":4.07,"s":2.03},{"d":795,"o":3.77,"s":2.23},{"d":797,"o":4.64,"s":1.97},{"d":799,"o":4.21,"s":2.07},
{"d":801,"o":4.66,"s":2.13},{"d":803,"o":4.22,"s":2.02},{"d":805,"o":5.1,"s":2.43},{"d":807,"o":4.8,"s":2.18},{"d":809,"o":4.29,"s":2.42},{"d":811,"o":4.61,"s":2.2},{"d":813,"o":5.11,"s":2.34},{"d":815,"o":4.79,"s":2.47},{"d":817,"o":4.41,"s":1.93},{"d":819,"o":5.34,"s":2.23},
{"d":821,"o":4.64,"s":2.57},{"d":823,"o":5.15,"s":2.03},{"d":825,"o":4.51,"s":2.37},{"d":827,"o":4.81,"s":2.36},{"d":829,"o":4.99,"s":2.0},{"d":831,"o":4.24,"s":2.56},{"d":833,"o":4.67,"s":2.29},{"d":835,"o":5.16,"s":1.88},{"d":837,"o":4.41,"s":2.05},{"d":839,"o":4.9,"s":2.39},
{"d":841,"o":4.89,"s":1.98},{"d":843,"o":4.38,"s":2.41},{"d":845,"o":5.12,"s":2.05},{"d":847,"o":4.62,"s":2.53},{"d":849,"o":4.17,"s":1.86},{"d":851,"o":4.91,"s":2.11},{"d":853,"o":4.71,"s":2.32},{"d":855,"o":4.4,"s":1.96},{"d":857,"o":5.02,"s":1.77},{"d":859,"o":4.5,"s":2.16},
{"d":861,"o":5.19,"s":2.41},{"d":863,"o":4.24,"s":1.83},{"d":865,"o":4.61,"s":2.17},{"d":867,"o":4.91,"s":2.16},{"d":869,"o":4.41,"s":1.8},{"d":871,"o":4.16,"s":2.31},{"d":873,"o":4.41,"s":1.97},{"d":875,"o":4.75,"s":1.79},{"d":877,"o":4.02,"s":2.08},{"d":879,"o":4.47,"s":2.0},
{"d":881,"o":4.13,"s":2.06},{"d":883,"o":4.58,"s":1.8},{"d":885,"o":3.91,"s":1.99},{"d":887,"o":4.36,"s":1.7},{"d":889,"o":4.75,"s":2.07},{"d":891,"o":4.08,"s":1.91},{"d":893,"o":4.24,"s":1.77},{"d":895,"o":4.52,"s":1.97},{"d":897,"o":3.96,"s":2.06},{"d":899,"o":4.41,"s":1.82},
{"d":901,"o":3.8,"s":1.66},{"d":903,"o":4.64,"s":1.98},{"d":905,"o":4.3,"s":1.76},{"d":907,"o":4.02,"s":1.75},{"d":909,"o":4.47,"s":1.95},{"d":911,"o":4.69,"s":1.63},{"d":913,"o":4.19,"s":1.83},{"d":915,"o":3.85,"s":1.99},{"d":917,"o":4.58,"s":1.68},{"d":919,"o":4.13,"s":1.74},
{"d":921,"o":4.47,"s":1.75},{"d":923,"o":3.72,"s":1.63},{"d":925,"o":4.44,"s":1.76},{"d":927,"o":4.1,"s":1.58},{"d":929,"o":3.59,"s":1.62},{"d":931,"o":3.8,"s":1.45},{"d":933,"o":4.25,"s":1.46},{"d":935,"o":3.96,"s":1.45},{"d":937,"o":3.61,"s":1.25},{"d":939,"o":4.44,"s":1.29},
{"d":941,"o":3.83,"s":1.33},{"d":943,"o":4.27,"s":1.14},{"d":945,"o":3.7,"s":1.19},{"d":947,"o":3.98,"s":1.14},{"d":949,"o":4.13,"s":0.99},{"d":951,"o":3.45,"s":1.1},{"d":953,"o":3.84,"s":0.97},{"d":955,"o":4.28,"s":0.82},{"d":957,"o":3.6,"s":0.81},{"d":959,"o":4.05,"s":0.86},
{"d":961,"o":4.04,"s":0.7},{"d":963,"o":3.58,"s":0.88},{"d":965,"o":4.25,"s":0.85},{"d":967,"o":3.79,"s":1.04},{"d":969,"o":3.39,"s":0.92},{"d":971,"o":4.05,"s":1.05},{"d":973,"o":3.89,"s":1.17},{"d":975,"o":3.6,"s":1.13},{"d":977,"o":4.15,"s":1.15},{"d":979,"o":3.7,"s":1.31},
{"d":981,"o":4.3,"s":1.45},{"d":983,"o":3.1,"s":1.41},{"d":985,"o":3.4,"s":1.5},{"d":987,"o":3.65,"s":1.54},{"d":989,"o":3.25,"s":1.51},{"d":991,"o":3.05,"s":1.65},{"d":993,"o":3.5,"s":1.61},{"d":995,"o":3.8,"s":1.59},{"d":997,"o":3.15,"s":1.72},{"d":999,"o":3.55,"s":1.73},
{"d":1001,"o":null,"s":1.79},{"d":1003,"o":null,"s":1.74},{"d":1005,"o":null,"s":1.85},{"d":1007,"o":null,"s":1.79},{"d":1009,"o":null,"s":1.94},{"d":1011,"o":null,"s":1.93},{"d":1013,"o":null,"s":1.92},{"d":1015,"o":null,"s":2.02},{"d":1017,"o":null,"s":2.09},{"d":1019,"o":null,"s":2.04},
{"d":1021,"o":null,"s":2.04},{"d":1023,"o":null,"s":2.17},{"d":1025,"o":null,"s":2.15},{"d":1027,"o":3.55,"s":2.34},{"d":1029,"o":3.95,"s":2.64},{"d":1031,"o":4.15,"s":2.19},{"d":1033,"o":3.7,"s":2.49},{"d":1035,"o":3.4,"s":2.75},{"d":1037,"o":4.05,"s":2.3},{"d":1039,"o":3.65,"s":2.41},
{"d":1041,"o":3.95,"s":2.7},{"d":1043,"o":3.55,"s":2.9},{"d":1045,"o":4.2,"s":2.6},{"d":1047,"o":3.9,"s":3.7},{"d":1049,"o":3.45,"s":3.9},{"d":1051,"o":3.65,"s":3.6},{"d":1053,"o":4.05,"s":4.0},{"d":1055,"o":3.8,"s":3.8},{"d":1057,"o":3.5,"s":3.7},{"d":1059,"o":4.25,"s":4.1},
{"d":1061,"o":3.7,"s":3.9},{"d":1063,"o":4.1,"s":3.8},{"d":1065,"o":3.6,"s":4.0},{"d":1067,"o":3.85,"s":3.7},{"d":1069,"o":4.0,"s":4.1},{"d":1071,"o":3.4,"s":3.9},{"d":1073,"o":5.33,"s":3.8},{"d":1075,"o":4.15,"s":4.0},{"d":1077,"o":3.55,"s":3.7},{"d":1079,"o":3.95,"s":3.9},
{"d":1081,"o":3.95,"s":3.8},{"d":1083,"o":3.92,"s":3.8},{"d":1085,"o":4.86,"s":3.9},{"d":1087,"o":4.28,"s":4.18},{"d":1089,"o":3.8,"s":3.7},{"d":1091,"o":4.73,"s":4.1},{"d":1093,"o":4.54,"s":3.9},{"d":1095,"o":4.19,"s":4.0},{"d":1097,"o":4.97,"s":3.9},{"d":1099,"o":4.41,"s":3.71},
{"d":1101,"o":5.27,"s":4.35},{"d":1103,"o":4.17,"s":4.2},{"d":1105,"o":4.65,"s":3.93},{"d":1107,"o":5.06,"s":3.97},{"d":1109,"o":4.49,"s":4.1},{"d":1111,"o":4.22,"s":4.45},{"d":1113,"o":4.93,"s":3.69},{"d":1115,"o":5.41,"s":4.3},{"d":1117,"o":4.46,"s":4.27},{"d":1119,"o":5.11,"s":4.0},
{"d":1121,"o":4.68,"s":4.34},{"d":1123,"o":5.32,"s":4.4},{"d":1125,"o":4.44,"s":4.22},{"d":1127,"o":5.08,"s":4.5},{"d":1129,"o":5.64,"s":4.7},{"d":1131,"o":4.77,"s":4.14},{"d":1133,"o":5.02,"s":4.6},{"d":1135,"o":5.43,"s":4.52},{"d":1137,"o":4.71,"s":4.96},{"d":1139,"o":5.35,"s":4.1}
]},
"layer": [
{"mark": {"type": "point", "shape": "square", "filled": true, "size": 64, "opacity": 1, "strokeWidth": 0},
 "encoding": {
  "x": {"field": "d", "type": "quantitative", "title": "Dia Juliano",
        "scale": {"domain": [-0.5, 1140.5], "nice": false, "zero": false},
        "axis": {"tickCount": 1200, "grid": false, "domainColor": "#000000", "domainWidth": 1.2,
                 "tickColor": "#333333", "tickSize": 4, "tickWidth": 0.7,
                 "labelAngle": 270, "labelFontSize": 16, "labelFontWeight": "bold", "labelFontStyle": "italic",
                 "labelColor": "#000000", "labelPadding": 9, "labelOverlap": false, "labelFlush": false, "labelBound": false,
                 "labelExpr": "datum.value % 30 != 0 ? '' : datum.value < 68 ? '' + (298 + datum.value) : datum.value < 434 ? '' + (datum.value - 67) : datum.value < 799 ? '' + (datum.value - 433) : '' + (datum.value - 798)",
                 "titleFontSize": 16, "titleFontWeight": "bold", "titleFontStyle": "italic", "titleColor": "#000000", "titlePadding": 36}},
  "y": {"field": "s", "type": "quantitative", "title": "Evapotranspiração (mm/dia)",
        "scale": {"domain": [0, 8], "nice": false},
        "axis": {"values": [0,1,2,3,4,5,6,7,8], "grid": false, "domainColor": "#000000", "domainWidth": 1.2,
                 "tickColor": "#000000", "tickSize": 5, "labelFontSize": 14, "labelFontWeight": "bold", "labelFontStyle": "italic",
                 "labelColor": "#000000", "labelPadding": 7, "format": "d",
                 "titleFontSize": 15, "titleFontWeight": "bold", "titleFontStyle": "italic", "titleColor": "#000000", "titlePadding": 11}},
  "color": {"datum": "ET_sim", "type": "nominal",
            "scale": {"domain": ["ET_sim", "ET_OBS"], "range": ["#FF00FF", "#000080"]},
            "legend": {"title": null, "orient": "none", "legendX": 447, "legendY": 561, "direction": "horizontal",
                       "symbolType": "square", "symbolSize": 64, "symbolStrokeWidth": 0, "symbolOpacity": 1,
                       "labelFontSize": 16, "labelFontWeight": "bold", "labelFontStyle": "italic", "labelColor": "#000000",
                       "labelOffset": 8, "columnPadding": 10}}
 }},
{"mark": {"type": "point", "shape": "square", "filled": true, "size": 64, "opacity": 1, "strokeWidth": 0},
 "encoding": {
  "x": {"field": "d", "type": "quantitative", "title": "Dia Juliano"},
  "y": {"field": "o", "type": "quantitative", "title": "Evapotranspiração (mm/dia)"},
  "color": {"datum": "ET_OBS", "type": "nominal"}
 }},
{"data": {"values": [{}]},
 "mark": {"type": "text", "fontSize": 20, "fontWeight": "bold", "fontStyle": "italic", "baseline": "middle", "align": "center", "color": "#000000"},
 "encoding": {"x": {"datum": 34}, "y": {"datum": -1.17}, "text": {"value": "|-2003-|"}}},
{"data": {"values": [{}]},
 "mark": {"type": "text", "fontSize": 20, "fontWeight": "bold", "fontStyle": "italic", "baseline": "middle", "align": "center", "color": "#000000"},
 "encoding": {"x": {"datum": 264}, "y": {"datum": -1.17}, "text": {"value": "|------------------ 2004 ------------------|"}}},
{"data": {"values": [{}]},
 "mark": {"type": "text", "fontSize": 20, "fontWeight": "bold", "fontStyle": "italic", "baseline": "middle", "align": "center", "color": "#000000"},
 "encoding": {"x": {"datum": 615}, "y": {"datum": -1.17}, "text": {"value": "|------------------ 2005 ------------------|"}}},
{"data": {"values": [{}]},
 "mark": {"type": "text", "fontSize": 20, "fontWeight": "bold", "fontStyle": "italic", "baseline": "middle", "align": "center", "color": "#000000"},
 "encoding": {"x": {"datum": 972}, "y": {"datum": -1.17}, "text": {"value": "|------------------ 2006 ------------------|"}}}
]
}
